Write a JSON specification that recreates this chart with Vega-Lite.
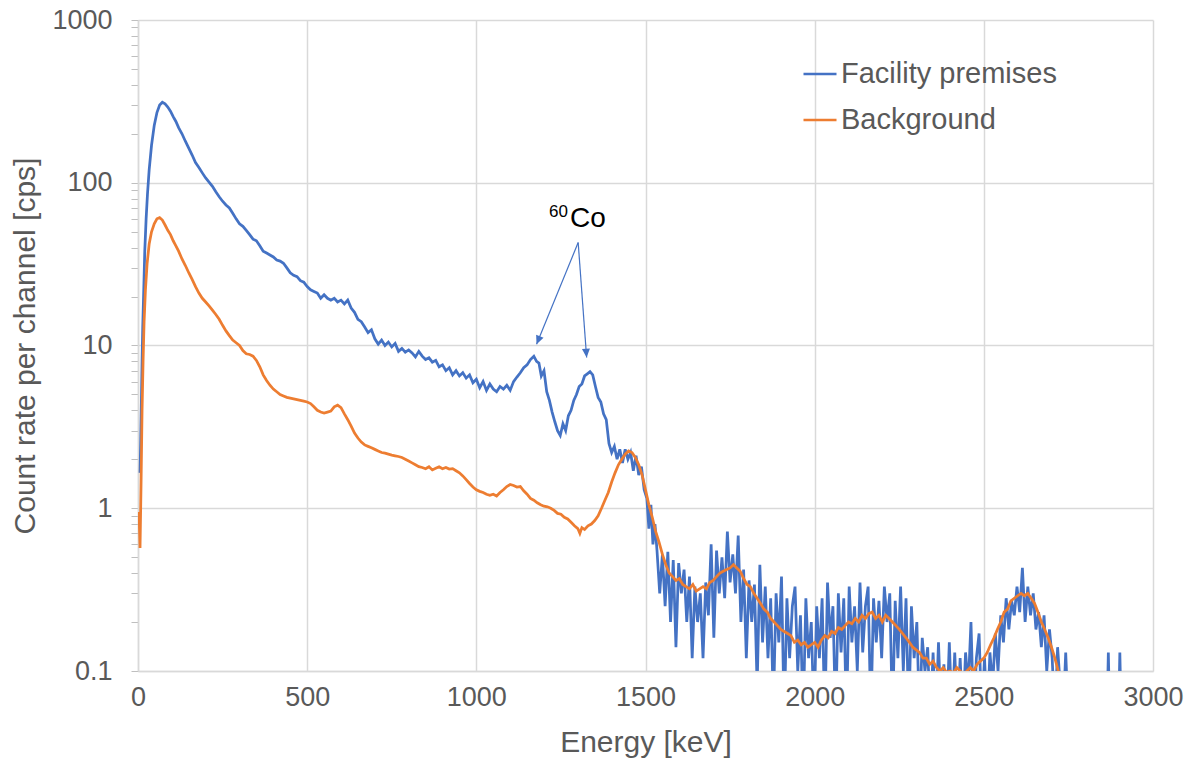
{
"$schema": "https://vega.github.io/schema/vega-lite/v6.json",
"width": 1015, "height": 651,
"autosize": {"type": "none"},
"padding": {"left": 138, "top": 20, "right": 45, "bottom": 98},
"config": {
  "font": "Liberation Sans",
  "view": {"stroke": null},
  "axis": {"domainColor": "#D9D9D9", "domainWidth": 1.5, "gridColor": "#D9D9D9", "gridWidth": 1.5, "labelColor": "#595959", "titleColor": "#595959", "labelFont": "Liberation Sans", "titleFont": "Liberation Sans", "labelFontSize": 27, "titleFontSize": 30, "titleFontWeight": "normal", "tickColor": "#BFBFBF", "labelOverlap": false, "labelFlush": false}
},
"datasets": {
"fac": [
{"e":6,"c":1.65},{"e":8,"c":2.6},{"e":10,"c":4.5},{"e":12,"c":8},{"e":14,"c":13},{"e":17,"c":22},{"e":20,"c":38},{"e":24,"c":60},{"e":28,"c":85},{"e":33,"c":120},{"e":40,"c":170},{"e":48,"c":225},{"e":56,"c":270},{"e":64,"c":300},{"e":72,"c":312},{"e":80,"c":305},{"e":88,"c":292},{"e":96,"c":275},{"e":104,"c":255},{"e":112,"c":238},{"e":120,"c":218},{"e":130,"c":200},{"e":140,"c":180},{"e":150,"c":163},{"e":160,"c":148},{"e":170,"c":133},{"e":180,"c":124},{"e":190,"c":115},{"e":200,"c":107},{"e":210,"c":101},{"e":220,"c":95},{"e":230,"c":88},{"e":240,"c":82},{"e":250,"c":77},{"e":260,"c":73},{"e":270,"c":70},{"e":280,"c":65},{"e":290,"c":60},{"e":300,"c":56},{"e":310,"c":54},{"e":320,"c":51},{"e":330,"c":48},{"e":340,"c":45},{"e":350,"c":44},{"e":360,"c":41},{"e":370,"c":38},{"e":380,"c":37},{"e":390,"c":36},{"e":400,"c":35},{"e":410,"c":33.5},{"e":420,"c":33},{"e":430,"c":32},{"e":440,"c":30},{"e":450,"c":28},{"e":460,"c":27},{"e":470,"c":26.5},{"e":480,"c":25},{"e":490,"c":24.5},{"e":500,"c":23},{"e":510,"c":22},{"e":520,"c":21.5},{"e":530,"c":21},{"e":540,"c":19.5},{"e":550,"c":20.5},{"e":560,"c":19.5},{"e":570,"c":19},{"e":580,"c":19.5},{"e":590,"c":18.5},{"e":600,"c":19},{"e":610,"c":18},{"e":620,"c":19},{"e":630,"c":17},{"e":640,"c":16},{"e":650,"c":14.5},{"e":660,"c":14},{"e":670,"c":13},{"e":680,"c":12},{"e":690,"c":12.5},{"e":700,"c":11},{"e":710,"c":10.2},{"e":720,"c":10.8},{"e":730,"c":10},{"e":740,"c":10.5},{"e":750,"c":9.8},{"e":760,"c":10.3},{"e":770,"c":9.2},{"e":780,"c":9.6},{"e":790,"c":9.1},{"e":800,"c":9.4},{"e":810,"c":9},{"e":820,"c":8.5},{"e":830,"c":9.2},{"e":840,"c":8.6},{"e":850,"c":8.2},{"e":860,"c":8.4},{"e":870,"c":7.9},{"e":880,"c":8.1},{"e":890,"c":7.4},{"e":900,"c":7.6},{"e":910,"c":7.0},{"e":920,"c":7.3},{"e":930,"c":6.6},{"e":940,"c":7.0},{"e":950,"c":6.5},{"e":960,"c":6.8},{"e":970,"c":6.3},{"e":980,"c":6.6},{"e":990,"c":5.9},{"e":1000,"c":6.2},{"e":1010,"c":5.5},{"e":1020,"c":6.0},{"e":1030,"c":5.3},{"e":1040,"c":5.8},{"e":1050,"c":5.4},{"e":1060,"c":5.2},{"e":1070,"c":5.6},{"e":1080,"c":5.4},{"e":1090,"c":5.7},{"e":1100,"c":5.3},{"e":1110,"c":6.0},{"e":1120,"c":6.4},{"e":1130,"c":6.8},{"e":1140,"c":7.3},{"e":1150,"c":7.6},{"e":1160,"c":8.2},{"e":1170,"c":8.6},{"e":1178,"c":8.0},{"e":1185,"c":7.8},{"e":1192,"c":6.5},{"e":1200,"c":7.0},{"e":1208,"c":5.2},{"e":1216,"c":4.6},{"e":1224,"c":3.9},{"e":1232,"c":3.4},{"e":1240,"c":3.0},{"e":1248,"c":2.8},{"e":1256,"c":3.3},{"e":1264,"c":3.0},{"e":1272,"c":3.7},{"e":1280,"c":4.0},{"e":1288,"c":4.6},{"e":1296,"c":5.0},{"e":1304,"c":5.6},{"e":1312,"c":5.8},{"e":1320,"c":6.5},{"e":1328,"c":6.7},{"e":1336,"c":6.9},{"e":1344,"c":6.6},{"e":1352,"c":5.6},{"e":1360,"c":4.8},{"e":1368,"c":4.5},{"e":1376,"c":3.8},{"e":1384,"c":3.5},{"e":1392,"c":2.5},{"e":1400,"c":2.2},{"e":1408,"c":2.4},{"e":1416,"c":2.0},{"e":1424,"c":2.3},{"e":1432,"c":1.9},{"e":1440,"c":2.3},{"e":1448,"c":2.0},{"e":1456,"c":2.2},{"e":1464,"c":1.7},{"e":1472,"c":2.1},{"e":1480,"c":1.6},{"e":1488,"c":1.8},{"e":1496,"c":1.3},{"e":1504,"c":1.15},{"e":1510,"c":0.75},{"e":1516,"c":1.05},{"e":1522,"c":0.6},{"e":1528,"c":0.8},
{"e":1534,"c":0.55},{"e":1542,"c":0.3},{"e":1550,"c":0.52},{"e":1558,"c":0.25},{"e":1566,"c":0.54},{"e":1574,"c":0.2},{"e":1582,"c":0.48},{"e":1590,"c":0.14},{"e":1598,"c":0.46},{"e":1606,"c":0.3},{"e":1614,"c":0.42},{"e":1622,"c":0.2},{"e":1630,"c":0.38},{"e":1638,"c":0.12},{"e":1646,"c":0.33},{"e":1654,"c":0.2},{"e":1662,"c":0.3},{"e":1670,"c":0.12},{"e":1678,"c":0.35},{"e":1686,"c":0.22},{"e":1694,"c":0.6},{"e":1702,"c":0.16},{"e":1710,"c":0.55},{"e":1718,"c":0.3},{"e":1726,"c":0.5},{"e":1734,"c":0.28},{"e":1742,"c":0.72},{"e":1750,"c":0.35},{"e":1758,"c":0.52},{"e":1766,"c":0.3},{"e":1774,"c":0.68},{"e":1782,"c":0.2},{"e":1790,"c":0.42},{"e":1798,"c":0.12},{"e":1806,"c":0.36},{"e":1814,"c":0.2},{"e":1822,"c":0.34},{"e":1830,"c":0.08},{"e":1838,"c":0.45},{"e":1846,"c":0.15},{"e":1854,"c":0.33},{"e":1862,"c":0.12},{"e":1870,"c":0.28},{"e":1878,"c":0.06},{"e":1886,"c":0.3},{"e":1894,"c":0.15},{"e":1902,"c":0.38},{"e":1910,"c":0.05},{"e":1918,"c":0.28},{"e":1926,"c":0.12},{"e":1934,"c":0.25},{"e":1942,"c":0.33},{"e":1950,"c":0.1},{"e":1958,"c":0.22},{"e":1966,"c":0.05},{"e":1974,"c":0.28},{"e":1982,"c":0.12},{"e":1990,"c":0.2},{"e":1998,"c":0.05},{"e":2006,"c":0.25},{"e":2014,"c":0.12},{"e":2022,"c":0.28},{"e":2030,"c":0.05},{"e":2038,"c":0.35},{"e":2046,"c":0.16},{"e":2054,"c":0.25},{"e":2062,"c":0.05},{"e":2070,"c":0.3},{"e":2078,"c":0.13},{"e":2086,"c":0.28},{"e":2094,"c":0.05},{"e":2102,"c":0.33},{"e":2110,"c":0.15},{"e":2118,"c":0.25},{"e":2126,"c":0.1},{"e":2134,"c":0.35},{"e":2142,"c":0.13},{"e":2150,"c":0.25},{"e":2158,"c":0.33},{"e":2166,"c":0.05},{"e":2174,"c":0.28},{"e":2182,"c":0.15},{"e":2190,"c":0.27},{"e":2198,"c":0.12},{"e":2206,"c":0.33},{"e":2214,"c":0.2},{"e":2222,"c":0.3},{"e":2230,"c":0.05},{"e":2238,"c":0.27},{"e":2246,"c":0.12},{"e":2254,"c":0.33},{"e":2262,"c":0.1},{"e":2270,"c":0.28},{"e":2278,"c":0.05},{"e":2286,"c":0.25},{"e":2294,"c":0.12},{"e":2302,"c":0.2},{"e":2310,"c":0.05},{"e":2318,"c":0.16},{"e":2326,"c":0.1},{"e":2334,"c":0.14},{"e":2342,"c":0.05},{"e":2350,"c":0.13},{"e":2358,"c":0.05},{"e":2366,"c":0.15},{"e":2374,"c":0.05},{"e":2382,"c":0.11},{"e":2390,"c":0.05},{"e":2398,"c":0.15},{"e":2406,"c":0.05},{"e":2414,"c":0.13},{"e":2422,"c":0.05},{"e":2430,"c":0.12},{"e":2438,"c":0.05},{"e":2446,"c":0.13},{"e":2454,"c":0.08},{"e":2462,"c":0.2},{"e":2470,"c":0.05},{"e":2478,"c":0.12},{"e":2486,"c":0.17},{"e":2494,"c":0.05},{"e":2502,"c":0.12},{"e":2510,"c":0.05},{"e":2518,"c":0.13},{"e":2526,"c":0.08},{"e":2534,"c":0.17},{"e":2542,"c":0.1},{"e":2550,"c":0.22},{"e":2558,"c":0.15},{"e":2566,"c":0.28},{"e":2574,"c":0.18},{"e":2582,"c":0.27},{"e":2590,"c":0.22},{"e":2598,"c":0.33},{"e":2606,"c":0.23},{"e":2614,"c":0.43},{"e":2622,"c":0.2},{"e":2630,"c":0.33},{"e":2638,"c":0.22},{"e":2646,"c":0.3},{"e":2654,"c":0.18},{"e":2662,"c":0.23},{"e":2670,"c":0.14},{"e":2678,"c":0.22},{"e":2686,"c":0.1},{"e":2694,"c":0.18},{"e":2702,"c":0.12},{"e":2710,"c":0.05},{"e":2718,"c":0.14},{"e":2726,"c":0.08},{"e":2734,"c":0.05},{"e":2742,"c":0.13},{"e":2750,"c":0.05},{"e":2800,"c":0.05},{"e":2864,"c":0.05},{"e":2868,"c":0.13},{"e":2872,"c":0.05},{"e":2898,"c":0.05},{"e":2902,"c":0.13},{"e":2906,"c":0.05}
],
"bg": [
{"e":3,"c":0.95},{"e":6,"c":0.57},{"e":9,"c":1.4},{"e":12,"c":4},{"e":15,"c":8},{"e":18,"c":14},{"e":22,"c":22},{"e":27,"c":32},{"e":33,"c":42},{"e":40,"c":50},{"e":48,"c":56},{"e":56,"c":60},{"e":64,"c":61},{"e":72,"c":59},{"e":80,"c":55},{"e":88,"c":51},{"e":96,"c":48},{"e":104,"c":44},{"e":112,"c":41},{"e":120,"c":38},{"e":130,"c":34},{"e":140,"c":31},{"e":150,"c":28},{"e":160,"c":25.5},{"e":170,"c":23},{"e":180,"c":21},{"e":190,"c":19.5},{"e":200,"c":18.5},{"e":210,"c":17.5},{"e":220,"c":16.5},{"e":230,"c":15.5},{"e":240,"c":14.5},{"e":250,"c":13.3},{"e":260,"c":12.3},{"e":270,"c":11.5},{"e":280,"c":10.8},{"e":290,"c":10.4},{"e":300,"c":10.0},{"e":310,"c":9.3},{"e":320,"c":8.9},{"e":330,"c":8.8},{"e":340,"c":8.6},{"e":350,"c":8.1},{"e":360,"c":7.4},{"e":370,"c":6.6},{"e":380,"c":6.1},{"e":390,"c":5.7},{"e":400,"c":5.4},{"e":410,"c":5.2},{"e":420,"c":5.0},{"e":430,"c":4.9},{"e":440,"c":4.8},{"e":450,"c":4.75},{"e":460,"c":4.7},{"e":470,"c":4.65},{"e":480,"c":4.6},{"e":490,"c":4.55},{"e":500,"c":4.5},{"e":510,"c":4.4},{"e":520,"c":4.2},{"e":530,"c":4.0},{"e":540,"c":3.9},{"e":550,"c":3.85},{"e":560,"c":3.9},{"e":570,"c":3.95},{"e":580,"c":4.2},{"e":590,"c":4.3},{"e":600,"c":4.15},{"e":610,"c":3.8},{"e":620,"c":3.5},{"e":630,"c":3.2},{"e":640,"c":2.9},{"e":650,"c":2.7},{"e":660,"c":2.55},{"e":670,"c":2.45},{"e":680,"c":2.4},{"e":690,"c":2.35},{"e":700,"c":2.3},{"e":710,"c":2.25},{"e":720,"c":2.2},{"e":730,"c":2.18},{"e":740,"c":2.15},{"e":750,"c":2.12},{"e":760,"c":2.1},{"e":770,"c":2.08},{"e":780,"c":2.05},{"e":790,"c":2.0},{"e":800,"c":1.95},{"e":810,"c":1.9},{"e":820,"c":1.85},{"e":830,"c":1.8},{"e":840,"c":1.78},{"e":850,"c":1.75},{"e":860,"c":1.8},{"e":870,"c":1.72},{"e":880,"c":1.76},{"e":890,"c":1.8},{"e":900,"c":1.75},{"e":910,"c":1.78},{"e":920,"c":1.74},{"e":930,"c":1.75},{"e":940,"c":1.7},{"e":950,"c":1.65},{"e":960,"c":1.58},{"e":970,"c":1.5},{"e":980,"c":1.42},{"e":990,"c":1.35},{"e":1000,"c":1.3},{"e":1010,"c":1.27},{"e":1020,"c":1.25},{"e":1030,"c":1.22},{"e":1040,"c":1.2},{"e":1050,"c":1.22},{"e":1060,"c":1.19},{"e":1070,"c":1.25},{"e":1080,"c":1.3},{"e":1090,"c":1.36},{"e":1100,"c":1.4},{"e":1110,"c":1.38},{"e":1120,"c":1.35},{"e":1130,"c":1.36},{"e":1140,"c":1.28},{"e":1150,"c":1.22},{"e":1160,"c":1.15},{"e":1170,"c":1.12},{"e":1180,"c":1.08},{"e":1190,"c":1.05},{"e":1200,"c":1.03},{"e":1210,"c":1.02},{"e":1220,"c":1.0},{"e":1230,"c":0.97},{"e":1240,"c":0.93},{"e":1250,"c":0.92},{"e":1260,"c":0.88},{"e":1270,"c":0.86},{"e":1280,"c":0.82},{"e":1290,"c":0.78},{"e":1300,"c":0.75},{"e":1306,"c":0.7},{"e":1312,"c":0.76},{"e":1320,"c":0.74},{"e":1330,"c":0.78},{"e":1340,"c":0.8},{"e":1350,"c":0.84},{"e":1360,"c":0.9},{"e":1370,"c":1.0},{"e":1380,"c":1.12},{"e":1390,"c":1.25},{"e":1400,"c":1.45},{"e":1410,"c":1.65},{"e":1420,"c":1.85},{"e":1430,"c":2.0},{"e":1440,"c":2.15},{"e":1450,"c":2.25},{"e":1460,"c":2.2},{"e":1470,"c":2.05},{"e":1480,"c":1.85},{"e":1490,"c":1.6},{"e":1500,"c":1.3},{"e":1510,"c":1.05},{"e":1520,"c":0.88},{"e":1530,"c":0.72},{"e":1540,"c":0.62},{"e":1550,"c":0.52},{"e":1560,"c":0.45},{"e":1570,"c":0.4},{"e":1580,"c":0.38},{"e":1590,"c":0.36},{"e":1600,"c":0.37},{"e":1610,"c":0.34},{"e":1620,"c":0.33},{"e":1630,"c":0.32},{"e":1640,"c":0.34},{"e":1650,"c":0.31},{"e":1660,"c":0.32},{"e":1670,"c":0.33},{"e":1680,"c":0.32},{"e":1690,"c":0.35},{"e":1700,"c":0.36},{"e":1710,"c":0.38},{"e":1720,"c":0.4},{"e":1730,"c":0.41},{"e":1740,"c":0.42},{"e":1750,"c":0.43},{"e":1760,"c":0.45},{"e":1770,"c":0.43},{"e":1780,"c":0.41},{"e":1790,"c":0.37},{"e":1800,"c":0.34},{"e":1810,"c":0.33},{"e":1820,"c":0.3},{"e":1830,"c":0.28},{"e":1840,"c":0.26},{"e":1850,"c":0.24},{"e":1860,"c":0.23},{"e":1870,"c":0.21},{"e":1880,"c":0.2},{"e":1890,"c":0.19},{"e":1900,"c":0.18},{"e":1910,"c":0.175},{"e":1920,"c":0.17},{"e":1930,"c":0.165},{"e":1940,"c":0.15},{"e":1950,"c":0.155},{"e":1960,"c":0.145},{"e":1970,"c":0.15},{"e":1980,"c":0.14},{"e":1990,"c":0.145},{"e":2000,"c":0.15},{"e":2010,"c":0.14},{"e":2020,"c":0.155},{"e":2030,"c":0.165},{"e":2040,"c":0.16},{"e":2050,"c":0.175},{"e":2060,"c":0.17},{"e":2070,"c":0.185},{"e":2080,"c":0.18},{"e":2090,"c":0.19},{"e":2100,"c":0.2},{"e":2110,"c":0.195},{"e":2120,"c":0.21},{"e":2130,"c":0.2},{"e":2140,"c":0.22},{"e":2150,"c":0.21},{"e":2160,"c":0.225},{"e":2170,"c":0.23},{"e":2180,"c":0.21},{"e":2190,"c":0.22},{"e":2200,"c":0.2},{"e":2210,"c":0.22},{"e":2220,"c":0.21},{"e":2230,"c":0.2},{"e":2240,"c":0.19},{"e":2250,"c":0.18},{"e":2260,"c":0.17},{"e":2270,"c":0.16},{"e":2280,"c":0.15},{"e":2290,"c":0.14},{"e":2300,"c":0.135},{"e":2310,"c":0.13},{"e":2320,"c":0.12},{"e":2330,"c":0.12},{"e":2340,"c":0.11},{"e":2350,"c":0.115},{"e":2360,"c":0.105},{"e":2370,"c":0.1},{"e":2380,"c":0.105},{"e":2390,"c":0.098},{"e":2400,"c":0.1},{"e":2410,"c":0.097},{"e":2420,"c":0.105},{"e":2430,"c":0.1},{"e":2440,"c":0.095},{"e":2450,"c":0.1},{"e":2460,"c":0.105},{"e":2470,"c":0.1},{"e":2480,"c":0.11},{"e":2490,"c":0.115},{"e":2500,"c":0.12},{"e":2510,"c":0.13},{"e":2520,"c":0.145},{"e":2530,"c":0.16},{"e":2540,"c":0.18},{"e":2550,"c":0.2},{"e":2560,"c":0.23},{"e":2570,"c":0.24},{"e":2580,"c":0.27},{"e":2590,"c":0.28},{"e":2600,"c":0.29},{"e":2610,"c":0.3},{"e":2620,"c":0.29},{"e":2630,"c":0.3},{"e":2640,"c":0.28},{"e":2650,"c":0.26},{"e":2660,"c":0.23},{"e":2670,"c":0.2},{"e":2680,"c":0.18},{"e":2690,"c":0.16},{"e":2700,"c":0.14},{"e":2710,"c":0.12},{"e":2720,"c":0.1},{"e":2725,"c":0.09}
],
"arrows": [
{"id":"a","e0":1301,"c0":42.9,"e":1178,"c":10.17},
{"id":"b","e0":1301,"c0":42.9,"e":1326,"c":8.43}
],
"labels": [
{"t":"Co","e":1277,"c":53.2},
{"t":"60","e":1271,"c":61.3}
]
},
"layer": [
{
  "data": {"name": "fac"},
  "mark": {"type": "line", "strokeWidth": 2.75, "clip": true},
  "encoding": {
    "x": {"field": "e", "type": "quantitative", "scale": {"domain": [0, 3000]},
      "axis": {"values": [0,500,1000,1500,2000,2500,3000], "format": "d", "title": "Energy [keV]", "tickSize": 0, "labelPadding": 13, "titlePadding": 17}},
    "y": {"field": "c", "type": "quantitative", "scale": {"type": "log", "domain": [0.1, 1000]},
      "axis": {"values": [0.1,0.2,0.3,0.4,0.5,0.6,0.7,0.8,0.9,1,2,3,4,5,6,7,8,9,10,20,30,40,50,60,70,80,90,100,200,300,400,500,600,700,800,900,1000],
        "labelExpr": "(datum.value==0.1||datum.value==1||datum.value==10||datum.value==100||datum.value==1000) ? format(datum.value,'~g') : ''",
        "gridOpacity": {"condition": {"test": "datum.value==0.1||datum.value==1||datum.value==10||datum.value==100||datum.value==1000", "value": 1}, "value": 0},
        "title": "Count rate per channel [cps]", "tickSize": 7, "labelPadding": 19, "titlePadding": 11}},
    "color": {"datum": "Facility premises", "type": "nominal",
      "scale": {"domain": ["Facility premises", "Background"], "range": ["#4472C4", "#ED7D31"]},
      "legend": {"orient": "none", "legendX": 664, "legendY": 36, "title": null, "symbolType": "stroke", "symbolSize": 1089, "symbolStrokeWidth": 2.5, "labelFontSize": 29, "labelColor": "#595959", "labelFont": "Liberation Sans", "labelOffset": 3, "labelLimit": 0, "rowPadding": 13, "padding": 0}}
  }
},
{
  "data": {"name": "bg"},
  "mark": {"type": "line", "strokeWidth": 2.75, "clip": true},
  "encoding": {
    "x": {"field": "e", "type": "quantitative"},
    "y": {"field": "c", "type": "quantitative"},
    "color": {"datum": "Background", "type": "nominal"}
  }
},
{
  "data": {"name": "arrows"},
  "mark": {"type": "rule", "color": "#4472C4", "strokeWidth": 1.2},
  "encoding": {
    "x": {"field": "e0", "type": "quantitative"},
    "y": {"field": "c0", "type": "quantitative"},
    "x2": {"field": "e"},
    "y2": {"field": "c"}
  }
},
{
  "data": {"name": "arrows"},
  "transform": [{"filter": "datum.id=='a'"}],
  "mark": {"type": "point", "shape": "M0,0L-0.5,-1.1L0.5,-1.1Z", "filled": true, "color": "#4472C4", "opacity": 1, "size": 256, "angle": 21.9},
  "encoding": {
    "x": {"field": "e", "type": "quantitative"},
    "y": {"field": "c", "type": "quantitative"}
  }
},
{
  "data": {"name": "arrows"},
  "transform": [{"filter": "datum.id=='b'"}],
  "mark": {"type": "point", "shape": "M0,0L-0.5,-1.1L0.5,-1.1Z", "filled": true, "color": "#4472C4", "opacity": 1, "size": 256, "angle": -4.5},
  "encoding": {
    "x": {"field": "e", "type": "quantitative"},
    "y": {"field": "c", "type": "quantitative"}
  }
},
{
  "data": {"name": "labels"},
  "transform": [{"filter": "datum.t=='Co'"}],
  "mark": {"type": "text", "align": "left", "baseline": "alphabetic", "fontSize": 28, "color": "#000000", "font": "Liberation Sans"},
  "encoding": {
    "x": {"field": "e", "type": "quantitative"},
    "y": {"field": "c", "type": "quantitative"},
    "text": {"field": "t"}
  }
},
{
  "data": {"name": "labels"},
  "transform": [{"filter": "datum.t=='60'"}],
  "mark": {"type": "text", "align": "right", "baseline": "alphabetic", "fontSize": 17, "color": "#000000", "font": "Liberation Sans"},
  "encoding": {
    "x": {"field": "e", "type": "quantitative"},
    "y": {"field": "c", "type": "quantitative"},
    "text": {"field": "t"}
  }
}
]
}
